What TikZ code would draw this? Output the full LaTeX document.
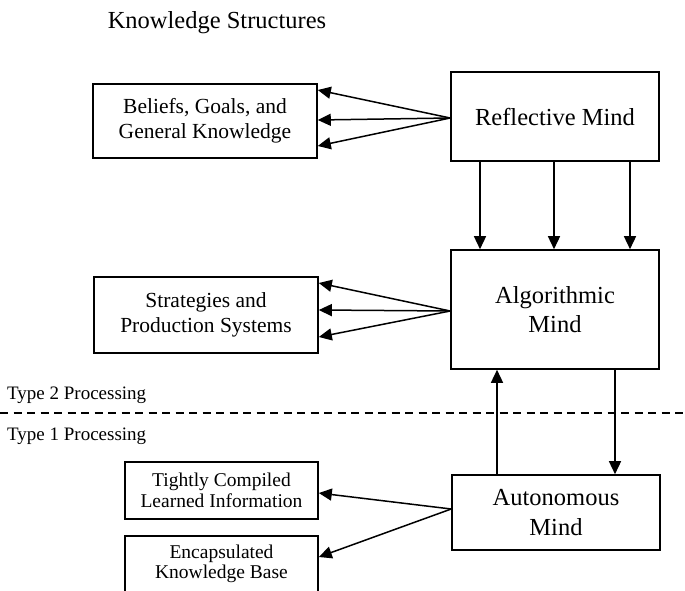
\documentclass[tikz,border=0pt]{standalone}
\usepackage{fontspec}
\setmainfont{Liberation Serif}
\usetikzlibrary{arrows.meta,calc}
\begin{document}
\begin{tikzpicture}[x=1pt,y=-1pt,
  box/.style={draw,line width=1.6pt,inner sep=0pt,align=center},
  mindbox/.style={box,minimum width=208pt,font=\fontsize{24.5}{29.5}\selectfont},
  knowbox/.style={box,font=\fontsize{21.5}{24.5}\selectfont},
  smallbox/.style={box,minimum width=193pt,font=\fontsize{19.5}{21}\selectfont},
  lbl/.style={inner sep=0pt,font=\fontsize{19}{20}\selectfont,anchor=west},
  arr/.style={line width=1.5pt,-{Triangle[length=13pt,width=12pt]}}]
\useasboundingbox (0,0) rectangle (685,591);
\clip (0,0) rectangle (685,591);
\fill[white] (0,0) rectangle (685,591);

\node[inner sep=0pt,font=\fontsize{24.5}{28}\selectfont] (title) at (217,23) {Knowledge Structures};

\node[mindbox,minimum height=89pt] (refl) at (555,116.5) {Reflective Mind};
\node[mindbox,minimum height=119pt] (alg) at (555,309.5) {Algorithmic\\Mind};
\node[mindbox,minimum height=75pt] (auto) at (556,512.5) {Autonomous\\Mind};

\node[knowbox,minimum width=224pt,minimum height=74pt] (bel) at (205,121) {Beliefs, Goals, and\\General Knowledge};
\node[knowbox,minimum width=224pt,minimum height=76pt] (strat) at (206,315) {Strategies and\\Production Systems};

\node[smallbox,minimum height=57pt] (tight) at (221.5,490.5) {Tightly Compiled\\Learned Information};
\node[smallbox,minimum height=70pt] (enc) at (221.5,571) {};
\node[inner sep=0pt,align=center,font=\fontsize{19.5}{20.5}\selectfont] (encT) at (221.5,564) {Encapsulated\\Knowledge Base};

\node[lbl] (t2) at (7,395) {Type 2 Processing};
\node[lbl] (t1) at (7,436) {Type 1 Processing};
\draw[line width=1.2pt,dash pattern=on 8pt off 5.5pt] (0,413) -- (685,413);

% Reflective -> Beliefs
\coordinate (rw) at ($(refl.west)+(0,1.5)$);
\draw[arr] (rw) -- ($(bel.east)+(0,-31)$);
\draw[arr] (rw) -- ($(bel.east)+(0,-1)$);
\draw[arr] (rw) -- ($(bel.east)+(0,25)$);

% Algorithmic -> Strategies
\coordinate (aw) at ($(alg.west)+(0,1.5)$);
\draw[arr] (aw) -- ($(strat.east)+(0,-32)$);
\draw[arr] (aw) -- ($(strat.east)+(0,-5)$);
\draw[arr] (aw) -- ($(strat.east)+(0,22)$);

% Reflective -> Algorithmic
\draw[arr] ($(refl.south)+(-75,0)$) -- ($(alg.north)+(-75,0)$);
\draw[arr] ($(refl.south)+(-1,0)$) -- ($(alg.north)+(-1,0)$);
\draw[arr] ($(refl.south)+(75,0)$) -- ($(alg.north)+(75,0)$);

% Autonomous <-> Algorithmic
\draw[arr] ($(auto.north)+(-59,0)$) -- ($(alg.south)+(-58,0)$);
\draw[arr] ($(alg.south)+(60,0)$) -- ($(auto.north)+(59,0)$);

% Autonomous -> Tightly / Encapsulated
\coordinate (uw) at ($(auto.west)+(0,-3.5)$);
\draw[arr] (uw) -- ($(tight.east)+(0,2.5)$);
\draw[arr] (uw) -- ($(enc.east)+(0,-14)$);
\end{tikzpicture}
\end{document}
